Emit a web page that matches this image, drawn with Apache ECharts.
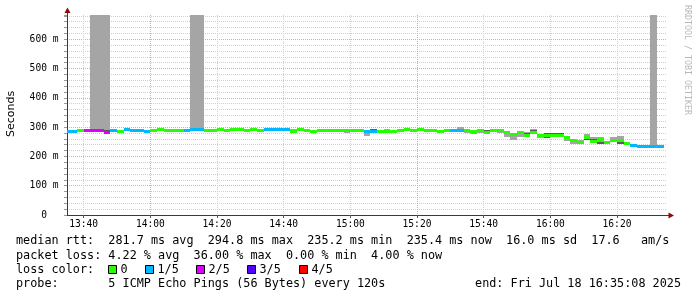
<!DOCTYPE html>
<html><head><meta charset="utf-8">
<script src="https://cdn.jsdelivr.net/npm/echarts@6/dist/echarts.min.js"></script>
<style>html,body{margin:0;padding:0;background:#fff}#c{width:697px;height:297px}</style>
</head><body><div id="c"></div>
<script>
// ---- data (2-minute smokeping steps, first step starts 13:34) ----
const stepStartMinute = 814;   // minutes of day of first step start (13:34)
const stepMinutes = 2;
const median = [
 288.0,288.0,289.2,290.3,290.3,290.3,284.7,291.4,288.0,293.7,
 290.3,289.2,285.8,289.2,293.7,289.2,290.3,290.3,291.4,293.7,
 293.7,290.3,290.3,293.7,290.3,293.7,293.7,290.3,293.7,290.3,
 294.8,294.8,294.8,294.8,288.0,294.8,290.3,288.0,290.3,289.2,
 291.4,289.2,290.3,290.3,290.3,288.0,288.0,288.0,285.8,285.8,
 289.2,292.6,290.3,293.7,290.3,290.3,288.0,290.3,290.3,289.2,
 289.2,288.0,290.3,282.4,290.3,290.3,283.5,277.8,282.4,274.4,
 283.5,273.2,272.1,272.1,273.2,267.5,255.1,248.2,266.4,253.9,
 258.5,249.4,255.1,256.2,247.1,238.0,235.7,236.8,236.8,235.4
];
const lossLevel = [
 1,1,0,2,2,2,2,1,0,1,
 1,1,1,0,0,0,0,0,1,1,
 1,0,0,0,0,0,0,0,0,0,
 1,1,1,1,0,0,0,0,0,0,
 0,0,0,0,0,1,1,0,0,0,
 0,0,0,0,0,0,0,0,1,1,
 0,0,0,0,0,0,0,0,0,0,
 0,0,0,0,0,0,0,0,0,0,
 0,0,0,0,0,1,1,1,1,1
];
const smokeLo = [
 286,286,287,288,288,288,283,289,286,291,
 288,287,284,287,291,287,288,288,289,291,
 291,288,288,291,287,291,291,288,291,288,
 292,290,292,292,286,291,288,286,288,287,
 289,283.5,279,288,286,271,286,286,283,283,
 287,290,288,291,288,288,285,288,288,284.7,
 281.2,275.5,278.9,280,287,281,267.5,255,267,270,
 279,264,262,270,268,252,244,242,256,247,
 242,242,251,242,241,236,234,235,235,234
];
const smokeHi = [
 290,290,291,292,683,683,683,293,291,295,
 293,292,290,291,295,292,292,292,293,683,
 683,293,293,295,294,295,295,293,295,293,
 296,296,296,296,292,296,293,291,293,292,
 293,292,292,292,292,290,292.6,290,292,288,
 291,294,292,295,292,292,290,292,292,301.6,
 292,290,292,290,293,292,286,280,285,283,
 292,276,279,280,281,269,261,256,276,265,
 267,251,267,269,249,244,237,238,683,237
];
const coreLo = [
 287,287,288,289,289,289,284,290,287,292,
 289,288,285,288,292,288,289,289,290,292,
 292,289,289,292,289,292,292,289,292,289,
 293,292,293,293,287,292,289,287,289,288,
 290,287,287,289,288,284,287,287,284,284,
 288,291,289,292,289,289,285.8,289,289,287,
 286,285,287,281,288,287,280,270,278,272,
 279,266,262,271,270,264,251,245,256,247,
 242,242,253,244,242,237,235,236,236,235
];
const coreHi = [
 289,289,290,291,292,292,290,292,290.5,294,
 292.5,291,288,290,294,291,291,291,292,295,
 295,292,292,294,292,294,294,292,294,292,
 295,295,295,295,290,295,292,290,292,291,
 292,292.6,291,291,291.5,289,292.6,289,288,287,
 290,293.5,291,294.5,291,291,289,291,291,292,
 291,289,291,289,292,291,285,279,284,281,
 290,274,279,279,279,268.5,258,252,268,258,
 251,247,261,256.5,248,241,236.5,237.5,238,236.5
];
const lossColors = ['#26ff00','#00b8ff','#dd00ff','#5500ff','#ff0000'];
const lossLabels = ['0','1/5','2/5','3/5','4/5'];
const majorTickMinutes = [820,840,860,880,900,920,940,960,980];
const yMax = 683;
const legendLines = [
 'median rtt:  281.7 ms avg  294.8 ms max  235.2 ms min  235.4 ms now  16.0 ms sd  17.6   am/s',
 'packet loss: 4.22 % avg  36.00 % max  0.00 % min  4.00 % now',
 'loss color:',
 'probe:       5 ICMP Echo Pings (56 Bytes) every 120s'
];
const endText = 'end: Fri Jul 18 16:35:08 2025';

// ---- build ----
const chart = echarts.init(document.getElementById('c'), null, {renderer:'canvas'});
const stepData = (lo, hi) => median.map((m,i)=>[stepStartMinute+i*stepMinutes, stepStartMinute+(i+1)*stepMinutes, lo[i], hi[i]]);
const medData = median.map((m,i)=>[stepStartMinute+i*stepMinutes, stepStartMinute+(i+1)*stepMinutes, m, lossLevel[i]]);

function clip(r, cs){
  return echarts.graphic.clipRectByRect(r, {x:cs.x, y:cs.y, width:cs.width, height:cs.height});
}
const R = Math.round;
function bandRender(fill){
  return function(params, api){
    const a = api.coord([api.value(0), api.value(3)]);
    const b = api.coord([api.value(1), api.value(2)]);
    const x0 = R(a[0]), x1 = R(b[0]), y0 = R(a[1]), y1 = R(b[1]);
    const s = clip({x:x0, y:y0, width:x1-x0, height:Math.max(1,y1-y0)}, params.coordSys);
    if(!s) return null;
    return {type:'rect', shape:s, style:{fill}};
  };
}
function medRender(params, api){
  const a = api.coord([api.value(0), api.value(2)]);
  const b = api.coord([api.value(1), api.value(2)]);
  const x0 = R(a[0]), x1 = R(b[0]), yc = R(a[1]);
  const s = clip({x:x0, y:yc-1, width:x1-x0, height:3}, params.coordSys);
  if(!s) return null;
  return {type:'rect', shape:s, style:{fill:lossColors[api.value(3)]}};
}
const fmtTime = v => { const h=Math.floor(v/60), m=v%60; return (h<10?'0':'')+h+':'+(m<10?'0':'')+m; };
const minorC = '#cfcfcf', majorC = '#f0a0a0';
const mono = 'DejaVu Sans Mono';

const graphic = [];
const legendY = [241, 255.5, 269.5, 284];
legendLines.forEach((t,i)=>graphic.push({type:'text', x:16, y:legendY[i], style:{text:t, font:'11.8px "DejaVu Sans Mono"', fill:'#000', textVerticalAlign:'middle'}}));
graphic.push({type:'text', x:681, y:legendY[3], style:{text:endText, font:'11.8px "DejaVu Sans Mono"', fill:'#000', textAlign:'right', textVerticalAlign:'middle'}});
const boxX = [108,145,196,247,299];
lossLabels.forEach((l,i)=>{
  graphic.push({type:'rect', shape:{x:boxX[i]+0.5, y:265.5, width:8, height:8}, style:{fill:lossColors[i], stroke:'#000', lineWidth:1}});
  graphic.push({type:'text', x:boxX[i]+12.5, y:legendY[2], style:{text:l, font:'11.8px "DejaVu Sans Mono"', fill:'#000', textVerticalAlign:'middle'}});
});
graphic.push({type:'text', x:11, y:114, rotation:Math.PI/2, style:{text:'Seconds', font:'11px "DejaVu Sans"', fill:'#000', textAlign:'center', textVerticalAlign:'middle'}});
graphic.push({type:'text', x:687, y:60, rotation:-Math.PI/2, style:{text:'RRDTOOL / TOBI OETIKER', font:'8.3px "DejaVu Sans Mono"', fill:'#b8b8b8', textAlign:'center', textVerticalAlign:'middle'}});
// axis extensions and arrows
graphic.push({type:'line', shape:{x1:67.5,y1:15,x2:67.5,y2:11}, style:{stroke:'#3a3a3a', lineWidth:1}});
graphic.push({type:'line', shape:{x1:667,y1:215.5,x2:670,y2:215.5}, style:{stroke:'#3a3a3a', lineWidth:1}});
graphic.push({type:'polygon', shape:{points:[[64.5,13],[67.5,7.5],[70.5,13]]}, style:{fill:'#8b0a0a'}, z:100});
graphic.push({type:'polygon', shape:{points:[[668.5,212.5],[674,215.5],[668.5,218.5]]}, style:{fill:'#8b0a0a'}, z:100});

chart.setOption({
  animation:false,
  backgroundColor:'#ffffff',
  grid:{left:67, top:15, width:600, height:200, containLabel:false},
  xAxis:{type:'value', min:815, max:995, interval:5,
    axisLine:{show:true, lineStyle:{color:'#3a3a3a', width:1}},
    axisTick:{show:true, length:3, customValues:majorTickMinutes, lineStyle:{color:'#555'}},
    axisLabel:{margin:4, fontSize:9.6, fontFamily:mono, color:'#000',
      formatter:v => majorTickMinutes.indexOf(v)>=0 ? fmtTime(v) : ''},
    splitLine:{show:true, showMinLine:true, showMaxLine:true, lineStyle:{color:[minorC,majorC,minorC,minorC], type:[1,1], width:1}}
  },
  yAxis:{type:'value', min:0, max:yMax, interval:20,
    axisLine:{show:true, lineStyle:{color:'#3a3a3a', width:1}},
    axisTick:{show:true, length:3, lineStyle:{color:'#999'}},
    axisLabel:{margin:8.5, fontSize:9.6, fontFamily:mono, color:'#000',
      formatter:v => v%100===0 ? (v===0 ? '0  ' : v+' m') : ''},
    splitLine:{show:true, showMinLine:true, showMaxLine:false, lineStyle:{color:[majorC,minorC,minorC,minorC,minorC], type:[1,1], width:1}}
  },
  series:[
    {type:'custom', renderItem:bandRender('#a5a5a5'), data:stepData(smokeLo, smokeHi), encode:{x:[0,1], y:[2,3]}, z:2},
    {type:'custom', renderItem:bandRender('#5a5a5a'), data:stepData(coreLo, coreHi), encode:{x:[0,1], y:[2,3]}, z:3},
    {type:'custom', renderItem:medRender, data:medData, encode:{x:[0,1], y:[2]}, z:4}
  ],
  graphic:graphic
});
</script></body></html>
